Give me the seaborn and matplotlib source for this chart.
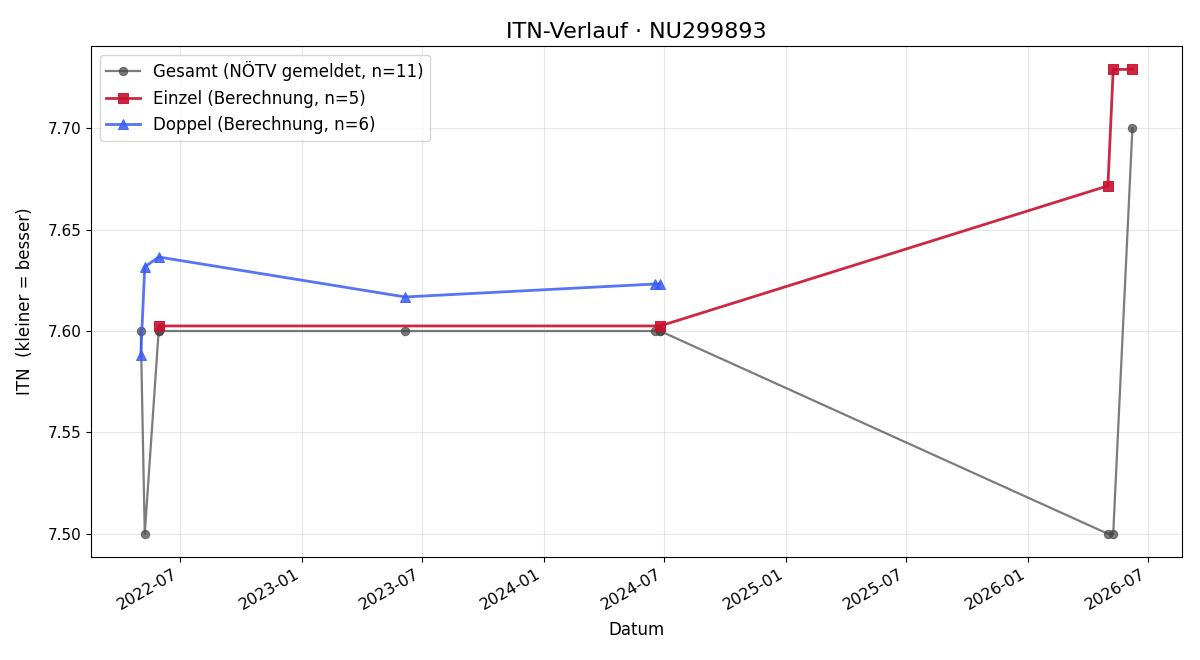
# ITN history chart

import pandas as pd
import matplotlib
matplotlib.use("Agg")
import matplotlib.pyplot as plt
import seaborn as sns

# data
gesamt_dates = ["2022-05-03", "2022-05-09", "2022-05-30", "2022-05-30", "2023-06-06",
                "2024-06-18", "2024-06-25", "2024-06-25", "2026-05-02", "2026-05-10", "2026-06-08"]
gesamt_itn = [7.60, 7.50, 7.60, 7.60, 7.60, 7.60, 7.60, 7.60, 7.50, 7.50, 7.70]

einzel_dates = ["2022-05-30", "2024-06-25", "2026-05-02", "2026-05-10", "2026-06-08"]
einzel_itn = [7.6025, 7.6025, 7.6716, 7.729, 7.729]

doppel_dates = ["2022-05-03", "2022-05-09", "2022-05-30", "2023-06-06", "2024-06-18", "2024-06-25"]
doppel_itn = [7.588, 7.6316, 7.6365, 7.6168, 7.6232, 7.6232]

df_g = pd.DataFrame({"Datum": pd.to_datetime(gesamt_dates), "ITN": gesamt_itn})
df_e = pd.DataFrame({"Datum": pd.to_datetime(einzel_dates), "ITN": einzel_itn})
df_d = pd.DataFrame({"Datum": pd.to_datetime(doppel_dates), "ITN": doppel_itn})

fig, ax = plt.subplots(figsize=(12, 6.6), dpi=100)

sns.lineplot(data=df_g, x="Datum", y="ITN", ax=ax, color="#444444", alpha=0.7,
             marker="o", markersize=6, linewidth=1.6, estimator=None,
             markeredgecolor="#444444", label="Gesamt (NÖTV gemeldet, n=11)")
sns.lineplot(data=df_e, x="Datum", y="ITN", ax=ax, color="#c8102e", alpha=0.9,
             marker="s", markersize=7, linewidth=2, estimator=None,
             markeredgecolor="#c8102e", label="Einzel (Berechnung, n=5)")
sns.lineplot(data=df_d, x="Datum", y="ITN", ax=ax, color="#3a5cf5", alpha=0.85,
             marker="^", markersize=7, linewidth=2, estimator=None,
             markeredgecolor="#3a5cf5", label="Doppel (Berechnung, n=6)")

ax.set_title("ITN-Verlauf · NU299893", fontsize=16)
ax.set_xlabel("Datum", fontsize=12, labelpad=6)
ax.set_ylabel("ITN  (kleiner = besser)", fontsize=12, labelpad=10)
ax.tick_params(axis="y", labelsize=11)
ax.tick_params(axis="x", labelsize=11.5)
ax.grid(alpha=0.3)
ax.legend(loc="upper left", fontsize=12)
fig.autofmt_xdate()
fig.subplots_adjust(left=0.076, right=0.985, top=0.93, bottom=0.156)
plt.savefig("out.png")
